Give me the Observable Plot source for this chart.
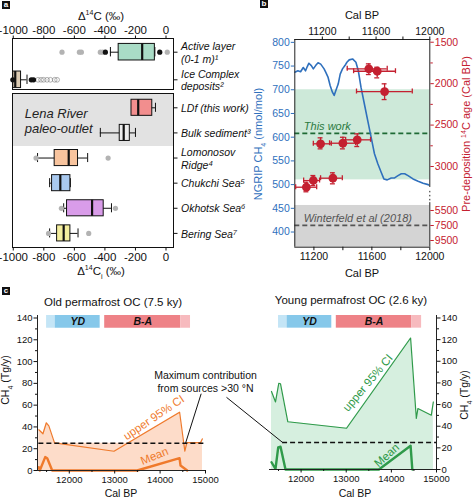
<!DOCTYPE html>
<html><head><meta charset="utf-8">
<script src="https://cdn.jsdelivr.net/npm/d3@7"></script>
<script src="https://cdn.jsdelivr.net/npm/@observablehq/plot@0.6"></script>
<style>
body{margin:0;background:#fff;}
#root{position:relative;width:473px;height:500px;overflow:hidden;background:#fff;font-family:"Liberation Sans",Arial,sans-serif;}
#root svg{position:absolute;overflow:visible;}
.lbl{position:absolute;white-space:nowrap;color:#111;line-height:1;}
.plet{position:absolute;width:8px;height:8px;background:#111;color:#fff;font:bold 8px/8px "Liberation Sans",Arial,sans-serif;text-align:center;}
.ital g[aria-label="y-axis tick label"] text, .ital g[aria-label="y-axis tick label"]{font-style:italic;}
</style></head>
<body><div id="root"></div>
<script>
// ---------------- Panel a data ----------------
const aTopLabels = ["Active layer\n(0-1 m)¹", "Ice Complex\ndeposits²"];
const aTopLo  = [-364, -1000];
const aTopQ1  = [-310, -1000];
const aTopMed = [-156, -987];
const aTopQ3  = [-73, -949];
const aTopHi  = [-73, -910];
const aTopColors = ["#a9dcc6", "#dccbb3"];
const aTopGrayOut  = [[0,-681],[0,-567],[0,-554],[0,-430],[0,-414],[0,8]];
const aTopBlackOut = [[0,-397],[0,-41],[1,-1003],[1,-882],[1,-867]];
const aTopFaintOut = [[1,-838],[1,-818],[1,-801],[1,-779],[1,-757],[1,-729],[1,-713]];

const aBotLabels = ["LDf (this work)", "Bulk sediment³", "Lomonosov\nRidge⁴", "Chukchi Sea⁵", "Okhotsk Sea⁶", "Bering Sea⁷"];
const aBotLo  = [-226, -430, -841, -762, -670, -762];
const aBotQ1  = [-226, -303, -729, -746, -648, -713];
const aBotMed = [-182, -277, -637, -692, -484, -670];
const aBotQ3  = [-90, -237, -576, -626, -408, -626];
const aBotHi  = [-69, -200, -513, -626, -357, -576];
const aBotColors = ["#f28e8e", "#ececec", "#f8c49e", "#a9c9ef", "#d99ce9", "#f4ee9e"];
const aBotGrayOut = [[2,-851],[2,-379],[4,-685],[4,-331],[5,-769],[5,-506]];
const aTicks = [-1000, -800, -600, -400, -200, 0];

// ---------------- Panel b data ----------------
const ch4Year = [10995,11018,11038,11058,11075,11088,11100,11118,11133,11150,11168,11188,11213,11225,11243,11258,11275,11288,11300,11318,11333,11350,11368,11383,11400,11425,11450,11468,11488,11513,11538,11563,11588,11613,11638,11658,11683,11713,11738,11763,11788,11813,11838,11875,11913,11950,11988,12000];
const ch4Value = [737,740,738,747,740,749,756,751,744,751,757,754,744,737,726,709,695,688,698,712,733,744,751,758,763,765,758,740,705,670,635,600,565,544,526,512,510,514,514,519,523,523,519,512,507,503,500,498];
const ldfYear  = [11579,11637,11688,11246,11400,11499,11148,11196,11331];
const ldfYrLo  = [11430,11474,11494,11196,11308,11419,11074,11129,11246];
const ldfYrHi  = [11706,11763,11879,11320,11488,11591,11219,11239,11396];
const ldfAge   = [1821,1850,2095,2726,2719,2678,3250,3169,3141];
const ldfAgeLo = [1761,1802,2002,2654,2647,2606,3190,3109,3076];
const ldfAgeHi = [1890,1930,2192,2787,2787,2759,3350,3230,3209];
const ch4Ticks = [400,450,500,550,600,650,700,750,800];
const ageTicks = [1500,2000,2500,3000,5500,7500,9500];
const ageMinor = [1750,2250,2750];
const calTicks = [11200,11400,11600,11800,12000];
const thisWorkBand = [510, 700];   // CH4 units
const thisWorkLine = 608;
const winterfeldBand = [368, 456];
const winterfeldLine = 414;
// broken right axis: age breakpoints and their compressed display values
const ageBreaks   = [1467, 3300, 5500, 10393];
const ageDisplay  = [1467, 3300, 3531, 3974];

// ---------------- Panel c data ----------------
const epochName  = ["", "YD", "B-A", ""];
const epochStart = [11500, 11690, 12780, 14455];
const epochEnd   = [11690, 12680, 14455, 14670];
const epochColor = ["#c4e5f6", "#86c8ea", "#ee8287", "#f7babe"];
const oldUpperYear = [11330,11420,11495,11550,11675,12985,14430,14545,14590,14890,14930];
const oldUpperVal  = [37.4,33.7,43.8,41,25.4,17.7,53.5,17.7,25.5,25.5,29];
const oldMeanYear  = [11330,11350,11470,11514,11624,13496,14428,14450,14597];
const oldMeanVal   = [3,0,12.3,11.3,0,0,11.3,4.6,0];
const youngUpperYear = [11344,11433,11506,11544,11706,13007,14426,14553,14588,14885,14930];
const youngUpperVal  = [72.1,62.4,79.7,79.2,44.1,38.1,121.5,47.2,56.3,50.2,62.4];
const youngMeanYear  = [11344,11433,11493,11544,11655,13723,14426,14464];
const youngMeanVal   = [6.7,0.6,20.4,21,0,0,21.9,0];
const maxContribution = 25;
const cYTicks = [0,20,40,60,80,100,120,140];
const cYMinor = [10,30,50,70,90,110,130];
const cXTicks = [12000,13000,14000,15000];
const cXMinor = [11500,12500,13500,14500];

// ---------------- helpers ----------------
const root = document.getElementById("root");
const FONT = '"Liberation Sans", Arial, sans-serif';
function place(svg, left, top, cls) {
  svg.style.left = left + "px"; svg.style.top = top + "px";
  if (cls) svg.classList.add(cls);
  root.appendChild(svg);
}
function label(html, x, y, o = {}) {
  const d = document.createElement("div");
  d.className = "lbl"; d.innerHTML = html;
  d.style.left = x + "px"; d.style.top = y + "px";
  d.style.transform = "translate(-50%,-50%)" + (o.rot ? " rotate(-90deg)" : "");
  d.style.fontSize = (o.size || 11) + "px";
  if (o.color) d.style.color = o.color;
  if (o.italic) d.style.fontStyle = "italic";
  root.appendChild(d);
}
function letter(t, x, y) {
  const d = document.createElement("div"); d.className = "plet"; d.textContent = t;
  d.style.left = x + "px"; d.style.top = y + "px"; root.appendChild(d);
}
const baseStyle = {background: "transparent", overflow: "visible", fontFamily: FONT, color: "#111"};

function boxMarks(rows, half, cap) {
  return [
    Plot.ruleY(rows, {y: "i", x1: "lo", x2: "hi", stroke: "#111", strokeWidth: 1}),
    Plot.ruleX(rows, {x: "lo", y1: d => d.i - cap, y2: d => d.i + cap, stroke: "#111"}),
    Plot.ruleX(rows, {x: "hi", y1: d => d.i - cap, y2: d => d.i + cap, stroke: "#111"}),
    Plot.rect(rows, {x1: "q1", x2: "q3", y1: d => d.i - half, y2: d => d.i + half, fill: "fill", stroke: "#111", strokeWidth: 1}),
    Plot.ruleX(rows, {x: "med", y1: d => d.i - half, y2: d => d.i + half, stroke: "#111", strokeWidth: 2.2})
  ];
}

// ---------------- Panel a ----------------
const topRows = aTopLabels.map((l, i) => ({i, lo: aTopLo[i], q1: aTopQ1[i], med: aTopMed[i], q3: aTopQ3[i], hi: aTopHi[i], fill: aTopColors[i]}));
const botRows = aBotLabels.map((l, i) => ({i, lo: aBotLo[i], q1: aBotQ1[i], med: aBotMed[i], q3: aBotQ3[i], hi: aBotHi[i], fill: aBotColors[i]}));
const aX = {domain: [-1005, 49]};

const a1 = Plot.plot({
  width: 250, height: 92, marginLeft: 12, marginRight: 77, marginTop: 38, marginBottom: 3,
  style: baseStyle, x: aX, y: {domain: [0, 1], range: [51.7, 79.3]}, color: {type: "identity"},
  marks: [
    ...boxMarks(topRows, 0.3, 0.17),
    Plot.dot(aTopGrayOut, {x: d => d[1], y: d => d[0], r: 2.6, fill: "#b3b3b3"}),
    Plot.dot(aTopFaintOut, {x: d => d[1], y: d => d[0], r: 2.4, fill: "none", stroke: "#777", strokeOpacity: 0.55, strokeWidth: 1}),
    Plot.dot(aTopBlackOut, {x: d => d[1], y: d => d[0], r: 2.6, fill: "#111"}),
    Plot.frame({stroke: "#111"}),
    Plot.axisX({anchor: "top", ticks: aTicks, tickFormat: d => String(d), tickSize: 3.5, tickPadding: 1.5, fontSize: 11.5, label: null}),
    Plot.axisY({anchor: "right", ticks: [0, 1], tickFormat: i => aTopLabels[i], tickSize: 3.5, tickPadding: 4, fontSize: 10.5, fontStyle: "italic", lineHeight: 1.2, label: null})
  ]
});
place(a1, 0, 0, "ital");

const lenaTop = -0.57, lenaBottom = 1.54;
const a2 = Plot.plot({
  width: 250, height: 280, marginLeft: 12, marginRight: 77, marginTop: 93, marginBottom: 33,
  style: baseStyle, x: aX, y: {domain: [0, 5], range: [107.3, 232.9]}, color: {type: "identity"},
  marks: [
    Plot.rect([0], {x1: aX.domain[0], x2: aX.domain[1], y1: lenaTop, y2: lenaBottom, fill: "#e2e2e2"}),
    Plot.text(["Lena River\npaleo-outlet"], {x: -925, y: 0.52, text: d => d, textAnchor: "start", fontStyle: "italic", fontSize: 13, lineHeight: 1.15, fill: "#222"}),
    ...boxMarks(botRows, 0.32, 0.18),
    Plot.dot(aBotGrayOut, {x: d => d[1], y: d => d[0], r: 2.6, fill: "#b3b3b3"}),
    Plot.frame({stroke: "#111"}),
    Plot.axisX({anchor: "bottom", ticks: aTicks, tickFormat: d => String(d), tickSize: 3.5, tickPadding: 1.5, fontSize: 11.5, label: null}),
    Plot.axisY({anchor: "right", ticks: [0,1,2,3,4,5], tickFormat: i => aBotLabels[i], tickSize: 3.5, tickPadding: 4, fontSize: 10.5, fontStyle: "italic", lineHeight: 1.25, label: null})
  ]
});
place(a2, 0, 0, "ital");

label("Δ<sup style='font-size:7px'>14</sup>C (‰)", 101, 16, {size: 11.5});
label("Δ<sup style='font-size:7px'>14</sup>C<sub style='font-size:7px'>i</sub> (‰)", 101, 272, {size: 11.5});
letter("a", 2, 1);

// ---------------- Panel b ----------------
const BLUE = "#2f70bd", RED = "#c42030", GREEN = "#2a7a3f";
const brk = d3.scaleLinear().domain(ageBreaks).range(ageDisplay);
const ch4 = ch4Year.map((x, i) => ({x, y: ch4Value[i]}));
const ldf = ldfYear.map((x, i) => ({x, lo: ldfYrLo[i], hi: ldfYrHi[i], y: brk(ldfAge[i]), ylo: brk(ldfAgeLo[i]), yhi: brk(ldfAgeHi[i])}));
const bDims = {width: 233, height: 285, marginLeft: 54.3, marginRight: 43.7, marginTop: 39, marginBottom: 38.3};
const bX1 = [10995, 12000], bY1 = [368, 806];

const b1 = Plot.plot({
  ...bDims, style: baseStyle,
  x: {domain: bX1}, y: {domain: bY1},
  marks: [
    Plot.rect([0], {x1: bX1[0], x2: bX1[1], y1: thisWorkBand[0], y2: thisWorkBand[1], fill: "#cde9d9"}),
    Plot.rect([0], {x1: bX1[0], x2: bX1[1], y1: winterfeldBand[0], y2: winterfeldBand[1], fill: "#d4d4d4"}),
    Plot.ruleY([thisWorkLine], {stroke: "#1e6a35", strokeWidth: 1.6, strokeDasharray: "5,3"}),
    Plot.ruleY([winterfeldLine], {stroke: "#555", strokeWidth: 1.6, strokeDasharray: "5,3"}),
    Plot.text(["This work"], {x: 11062, y: 623, text: d => d, textAnchor: "start", fontStyle: "italic", fontSize: 11, fill: GREEN}),
    Plot.text(["Winterfeld et al (2018)"], {x: 11062, y: 429, text: d => d, textAnchor: "start", fontStyle: "italic", fontSize: 11, fill: "#555"}),
    Plot.line(ch4, {x: "x", y: "y", stroke: BLUE, strokeWidth: 1.6, clip: true}),
    Plot.ruleX([bX1[0]], {stroke: "#222"}),
    Plot.ruleY([bY1[1]], {stroke: "#222"}),
    Plot.ruleY([bY1[0]], {stroke: "#222"}),
    Plot.axisY({anchor: "left", ticks: ch4Ticks, color: BLUE, tickSize: 3.5, tickPadding: 1.5, fontSize: 10.5, label: null}),
    Plot.axisX({anchor: "top", ticks: calTicks, tickFormat: d => d % 400 === 0 ? String(d) : "", tickSize: 3.5, tickPadding: 1.5, fontSize: 10.5, label: null})
  ]
});
place(b1, 240, 0);

const bX2 = [11068, 12000];
const bY2 = [ageDisplay[0], ageDisplay[ageDisplay.length - 1]];
const capY = 30, capX = 17;
const b2 = Plot.plot({
  ...bDims, style: baseStyle,
  x: {domain: bX2}, y: {domain: bY2, reverse: true},
  marks: [
    Plot.ruleX([bX2[1]], {y1: bY2[0], y2: brk(3253), stroke: "#222"}),
    Plot.ruleX([bX2[1]], {y1: brk(3300), y2: brk(4500), stroke: "#222", strokeDasharray: "1.5,2.5"}),
    Plot.ruleX([bX2[1]], {y1: brk(4600), y2: bY2[1], stroke: "#222"}),
    Plot.ruleY(ldf, {y: "y", x1: "lo", x2: "hi", stroke: RED, strokeWidth: 1.3}),
    Plot.ruleX(ldf, {x: "x", y1: "ylo", y2: "yhi", stroke: RED, strokeWidth: 1.3}),
    Plot.ruleX(ldf, {x: "lo", y1: d => d.y - capY, y2: d => d.y + capY, stroke: RED, strokeWidth: 1.3}),
    Plot.ruleX(ldf, {x: "hi", y1: d => d.y - capY, y2: d => d.y + capY, stroke: RED, strokeWidth: 1.3}),
    Plot.ruleY(ldf, {y: "ylo", x1: d => d.x - capX, x2: d => d.x + capX, stroke: RED, strokeWidth: 1.3}),
    Plot.ruleY(ldf, {y: "yhi", x1: d => d.x - capX, x2: d => d.x + capX, stroke: RED, strokeWidth: 1.3}),
    Plot.dot(ldf, {x: "x", y: "y", r: 4.4, fill: RED}),
    Plot.axisY({anchor: "right", ticks: ageTicks.map(brk), tickFormat: v => String(Math.round(brk.invert(v))), color: RED, tickSize: 3.5, tickPadding: 1.5, fontSize: 10.5, label: null}),
    Plot.axisY({anchor: "right", ticks: ageMinor.map(brk), tickFormat: () => "", color: RED, tickSize: 2.5, label: null}),
    Plot.axisX({anchor: "bottom", ticks: calTicks, tickFormat: d => d % 400 === 0 ? String(d) : "", tickSize: 3.5, tickPadding: 1.5, fontSize: 10.5, label: null})
  ]
});
place(b2, 240, 0);

label("Cal BP", 362, 15, {size: 11});
label("Cal BP", 362, 273, {size: 11});
label("NGRIP CH<sub style='font-size:7px'>4</sub> (nmol/mol)", 260, 144, {size: 11, rot: true, color: BLUE});
label("Pre-deposition <sup style='font-size:7px'>14</sup>C age (Cal BP)", 466, 134, {size: 11, rot: true, color: RED});
letter("b", 260, 0);

// ---------------- Panel c ----------------
const epochs = epochName.map((n, i) => ({n, x1: epochStart[i], x2: epochEnd[i], fill: epochColor[i]}));
const cXdom = [11300, 15000], cYdom = [0, 142.3];
function cPanel(upperYear, upperVal, meanYear, meanVal, lineColor, fillColor, dashFrom, side, extra) {
  const upper = upperYear.map((x, i) => ({x, y: upperVal[i]}));
  const mean = meanYear.map((x, i) => ({x, y: meanVal[i]}));
  const axisAt = side === "left" ? cXdom[0] : cXdom[1];
  return [
    Plot.rect(epochs, {x1: "x1", x2: "x2", y1: 130.6, y2: 142.3, fill: "fill"}),
    Plot.text(epochs, {x: d => (d.x1 + d.x2) / 2, y: 136.4, text: "n", fontWeight: "bold", fontStyle: "italic", fontSize: 10.5, fill: "#111"}),
    Plot.areaY(upper, {x: "x", y: "y", fill: fillColor}),
    Plot.rect([0], {x1: upperYear[0], x2: upperYear[upperYear.length - 1], y1: 0, y2: maxContribution, fill: fillColor}),
    Plot.line(upper, {x: "x", y: "y", stroke: lineColor, strokeWidth: 1.2}),
    Plot.line(mean, {x: "x", y: "y", stroke: lineColor, strokeWidth: 2.4}),
    Plot.ruleY([maxContribution], {x1: dashFrom[0], x2: dashFrom[1], stroke: "#111", strokeWidth: 1.5, strokeDasharray: "5,3"}),
    Plot.ruleY([0], {stroke: "#222"}),
    Plot.ruleX([axisAt], {stroke: "#222"}),
    Plot.axisY({anchor: side, ticks: cYTicks, tickSize: 3.5, tickPadding: 1.5, fontSize: 9.5, label: null}),
    Plot.axisY({anchor: side, ticks: cYMinor, tickFormat: () => "", tickSize: 2, label: null}),
    Plot.axisX({anchor: "bottom", ticks: cXTicks, tickFormat: d => String(d), tickSize: 3.5, tickPadding: 2.5, fontSize: 9.5, label: null}),
    Plot.axisX({anchor: "bottom", ticks: cXMinor, tickFormat: () => "", tickSize: 2, label: null}),
    ...extra
  ];
}
const ORANGE = "#ef7a2c", OFILL = "#fddcc9", GLINE = "#2f9a4a", GFILL = "#d6efdf";

const c1 = Plot.plot({
  width: 265, height: 215, marginLeft: 37, marginRight: 60, marginTop: 30, marginBottom: 30,
  style: baseStyle, x: {domain: cXdom}, y: {domain: cYdom}, color: {type: "identity"},
  marks: cPanel(oldUpperYear, oldUpperVal, oldMeanYear, oldMeanVal, ORANGE, OFILL, [11330, 14990], "left", [
    Plot.text(["upper 95% CI"], {x: 13862, y: 48.5, text: d => d, rotate: -34, fontSize: 11.5, fill: ORANGE}),
    Plot.text(["Mean"], {x: 13877, y: 13.2, text: d => d, rotate: -22, fontSize: 11.5, fill: ORANGE}),
    Plot.link([0], {x1: 14560, y1: maxContribution, x2: 14905, y2: 70.5, stroke: "#111", strokeWidth: 1}),
    Plot.text(["Maximum contribution\nfrom sources >30 °N"], {x: 15000, y: 82, text: d => d, fontSize: 10.5, lineHeight: 1.3, fill: "#111"})
  ])
});
place(c1, 0, 285);

const c2 = Plot.plot({
  width: 240, height: 215, marginLeft: 36, marginRight: 37, marginTop: 30, marginBottom: 31,
  style: baseStyle, x: {domain: cXdom}, y: {domain: cYdom}, color: {type: "identity"},
  marks: cPanel(youngUpperYear, youngUpperVal, youngMeanYear, youngMeanVal, GLINE, GFILL, [11590, 15000], "right", [
    Plot.text(["upper 95% CI"], {x: 13480, y: 80, text: d => d, rotate: -50, fontSize: 11.5, fill: GLINE}),
    Plot.text(["Mean"], {x: 13900, y: 13, text: d => d, rotate: -42, fontSize: 11.5, fill: GLINE}),
    Plot.link([0], {x1: 11590, y1: maxContribution, x2: 10347, y2: 66.7, stroke: "#111", strokeWidth: 1})
  ])
});
place(c2, 233, 285);

label("Old permafrost OC (7.5 ky)", 113, 303, {size: 11.5});
label("Young permafrost OC (2.6 ky)", 351, 301, {size: 11.5});
label("Cal BP", 121, 493, {size: 10.5});
label("Cal BP", 355, 493, {size: 10.5});
label("CH<sub style='font-size:7px'>4</sub> (Tg/y)", 7, 380, {size: 10.5, rot: true});
label("CH<sub style='font-size:7px'>4</sub> (Tg/y)", 466, 395, {size: 10.5, rot: true});
letter("c", 2, 287);
</script>
</body></html>
